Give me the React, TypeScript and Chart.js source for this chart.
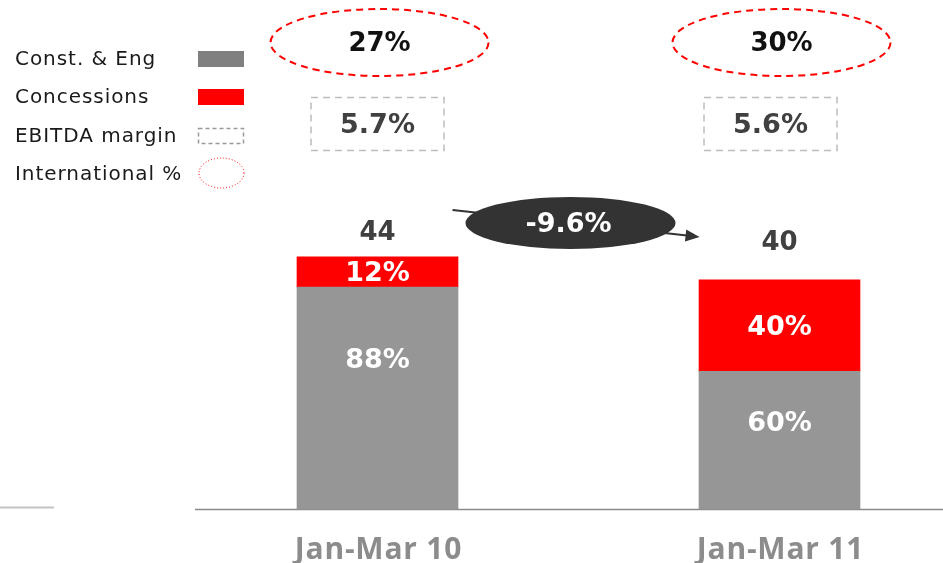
import React, { useEffect, useRef } from "react";
import { Chart, registerables } from "chart.js";

Chart.register(...registerables);

// ---- data ----
const categories = ["Jan-Mar 10", "Jan-Mar 11"];
const totals = [44, 40];
const constEngPct = [88, 60];
const concessionsPct = [12, 40];
const internationalPct = [27, 30];
const ebitdaMargin = [5.7, 5.6];
const growthLabel = "-9.6%";
const legendLabels = ["Const. & Eng", "Concessions", "EBITDA margin", "International %"];

// ---- styles ----
const GREY = "#969696";
const RED = "#ff0000";
const NUM_FONT = '"DejaVu Sans", sans-serif';

const constEngValues = totals.map((t, i) => (t * constEngPct[i]) / 100);
const concessionsValues = totals.map((t, i) => (t * concessionsPct[i]) / 100);

function ellipse(ctx: CanvasRenderingContext2D, cx: number, cy: number, rx: number, ry: number) {
  ctx.beginPath();
  ctx.ellipse(cx, cy, rx, ry, 0, 0, Math.PI * 2);
}

const overlayPlugin = {
  id: "overlay",
  beforeDatasetsDraw(chart: any) {
    const ctx: CanvasRenderingContext2D = chart.ctx;
    const y0 = chart.scales.y.getPixelForValue(0);
    ctx.save();
    ctx.strokeStyle = "#c4c4c4";
    ctx.lineWidth = 2;
    ctx.beginPath();
    ctx.moveTo(0, y0 - 1.5);
    ctx.lineTo(54, y0 - 1.5);
    ctx.stroke();
    ctx.strokeStyle = "#8a8a8a";
    ctx.lineWidth = 1.5;
    ctx.beginPath();
    ctx.moveTo(195, y0 + 0.5);
    ctx.lineTo(943, y0 + 0.5);
    ctx.stroke();
    ctx.restore();
  },
  afterDatasetsDraw(chart: any) {
    const ctx: CanvasRenderingContext2D = chart.ctx;
    const xs = chart.scales.x;
    const ys = chart.scales.y;
    const y0 = ys.getPixelForValue(0);
    ctx.save();
    ctx.textAlign = "center";
    ctx.textBaseline = "middle";

    const boxOffsets = [0, -9];
    const totalGap = [24, 36];
    const greyLabelFrac = [0.335, 0.38];

    categories.forEach((cat, i) => {
      const bx = xs.getPixelForValue(i);
      const yTop = ys.getPixelForValue(totals[i]);
      const yMid = ys.getPixelForValue(constEngValues[i]);

      // segment labels
      ctx.fillStyle = "#ffffff";
      ctx.font = `bold 27px ${NUM_FONT}`;
      ctx.fillText(`${concessionsPct[i]}%`, bx, (yTop + yMid) / 2 + 2);
      ctx.fillText(`${constEngPct[i]}%`, bx, yMid + (y0 - yMid) * greyLabelFrac[i]);

      // total
      ctx.fillStyle = "#404040";
      ctx.font = `bold 26px ${NUM_FONT}`;
      ctx.fillText(String(totals[i]), bx, yTop - totalGap[i]);

      // international % ellipse
      ctx.save();
      ctx.strokeStyle = RED;
      ctx.lineWidth = 2;
      ctx.setLineDash([7, 5]);
      ellipse(ctx, bx + 2, 42.5, 109, 33.5);
      ctx.stroke();
      ctx.restore();
      ctx.fillStyle = "#111111";
      ctx.font = `bold 26px ${NUM_FONT}`;
      ctx.fillText(`${internationalPct[i]}%`, bx + 2, 44);

      // EBITDA margin box
      const cx = bx + boxOffsets[i];
      ctx.save();
      ctx.strokeStyle = "#bdbdbd";
      ctx.lineWidth = 1.5;
      ctx.setLineDash([7, 5]);
      ctx.strokeRect(cx - 66.5, 97.5, 133, 53);
      ctx.restore();
      ctx.fillStyle = "#404040";
      ctx.font = `bold 27px ${NUM_FONT}`;
      ctx.fillText(`${ebitdaMargin[i].toFixed(1)}%`, cx, 126);

      // category label
      ctx.save();
      ctx.fillStyle = "#8c8c8c";
      ctx.font = 'bold 30px "Open Sans", sans-serif';
      (ctx as any).letterSpacing = "0.8px";
      ctx.fillText(cat, bx + 1, 550);
      ctx.restore();
    });

    // growth arrow
    const x1 = xs.getPixelForValue(0);
    const x2 = xs.getPixelForValue(1);
    const sx = x1 + 75, sy = 210;
    const ex = x2 - 80, ey = 237;
    ctx.strokeStyle = "#333333";
    ctx.fillStyle = "#333333";
    ctx.lineWidth = 2;
    ctx.beginPath();
    ctx.moveTo(sx, sy);
    ctx.lineTo(ex - 10, ey - 1.2);
    ctx.stroke();
    const ang = Math.atan2(ey - sy, ex - sx);
    ctx.beginPath();
    ctx.moveTo(ex, ey);
    ctx.lineTo(ex - 14 * Math.cos(ang) + 6 * Math.sin(ang), ey - 14 * Math.sin(ang) - 6 * Math.cos(ang));
    ctx.lineTo(ex - 14 * Math.cos(ang) - 6 * Math.sin(ang), ey - 14 * Math.sin(ang) + 6 * Math.cos(ang));
    ctx.closePath();
    ctx.fill();

    const mx = (x1 + x2) / 2 - 8;
    ellipse(ctx, mx, 223, 105, 26);
    ctx.fillStyle = "#333333";
    ctx.fill();
    ctx.fillStyle = "#ffffff";
    ctx.font = `bold 27px ${NUM_FONT}`;
    ctx.fillText(growthLabel, mx - 2, 225);

    // legend
    const ly = [59, 97, 136, 174];
    ctx.save();
    ctx.textAlign = "left";
    ctx.font = '20px "DejaVu Sans", sans-serif';
    (ctx as any).letterSpacing = "0.95px";
    legendLabels.forEach((l, i) => {
      ctx.fillStyle = "#1a1a1a";
      ctx.fillText(l, 15, ly[i] + 1);
    });
    ctx.restore();
    ctx.fillStyle = "#808080";
    ctx.fillRect(198, ly[0] - 8, 46, 16);
    ctx.fillStyle = RED;
    ctx.fillRect(198, ly[1] - 8, 46, 16);
    ctx.save();
    ctx.strokeStyle = "#9a9a9a";
    ctx.lineWidth = 1.5;
    ctx.setLineDash([4, 3]);
    ctx.strokeRect(198.5, ly[2] - 7.5, 45, 15);
    ctx.restore();
    ctx.save();
    ctx.strokeStyle = RED;
    ctx.lineWidth = 1;
    ctx.setLineDash([1, 2]);
    ellipse(ctx, 221.5, ly[3] - 1, 22.5, 15);
    ctx.stroke();
    ctx.restore();

    ctx.restore();
  },
};

export default function App() {
  const canvasRef = useRef<HTMLCanvasElement>(null);

  useEffect(() => {
    document.body.style.margin = "0";
    document.body.style.overflow = "hidden";
    const canvas = canvasRef.current;
    if (!canvas) return;
    const chart = new Chart(canvas, {
      type: "bar",
      data: {
        labels: categories,
        datasets: [
          {
            label: legendLabels[0],
            data: constEngValues,
            backgroundColor: GREY,
            barThickness: 161,
            clip: false as any,
          },
          {
            label: legendLabels[1],
            data: concessionsValues,
            backgroundColor: RED,
            barThickness: 161,
            clip: false as any,
          },
        ],
      },
      options: {
        animation: false,
        responsive: false,
        devicePixelRatio: 1,
        layout: { padding: { left: 377.5, right: 163.5, top: 0, bottom: 54 } },
        scales: {
          x: { type: "category", offset: false, stacked: true, display: false },
          y: { stacked: true, min: 0, max: 88.8, display: false },
        },
        plugins: {
          legend: { display: false },
          tooltip: { enabled: false },
        },
      },
      plugins: [overlayPlugin],
    });
    return () => chart.destroy();
  }, []);

  return (
    <div style={{ width: 943, height: 563, position: "relative", overflow: "hidden", background: "#fff" }}>
      <canvas ref={canvasRef} width={943} height={563} style={{ display: "block" }} />
    </div>
  );
}
